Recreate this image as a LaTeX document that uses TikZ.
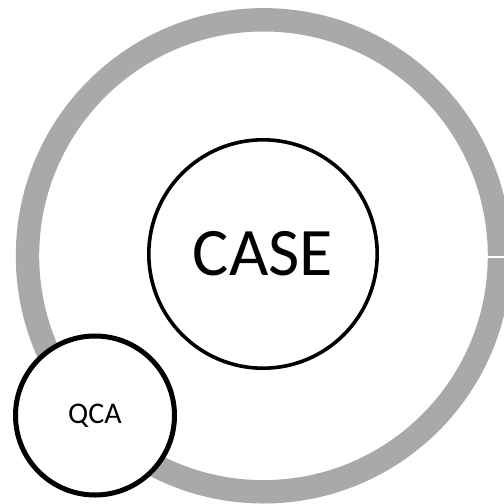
\documentclass[tikz,border=0pt]{standalone}
\usepackage{fontspec}
\setmainfont{Carlito}
\definecolor{ringgray}{HTML}{A9A9A9}
\tikzset{
  bubble/.style={circle, draw=black, fill=white, inner sep=0pt, align=center}
}
\begin{document}
\begin{tikzpicture}[x=1pt,y=-1pt]
\useasboundingbox (0,0) rectangle (504,504);
\fill[white] (0,0) rectangle (504,504);
\draw[ringgray, line width=23.4pt] (263.5,255.8) circle[radius=236];
\coordinate (gapA) at (487,257);
\coordinate (gapB) at (505,257);
\draw[white, line width=1.2pt] (gapA) -- (gapB);
\node[bubble, line width=3.6pt, minimum size=228.4pt, font=\fontsize{68}{72}\selectfont] (case) at (263,254) {CASE};
\node[bubble, line width=5pt, minimum size=159pt, font=\fontsize{30}{33}\selectfont] (qca) at (95,415.5) {QCA};
\end{tikzpicture}
\end{document}
